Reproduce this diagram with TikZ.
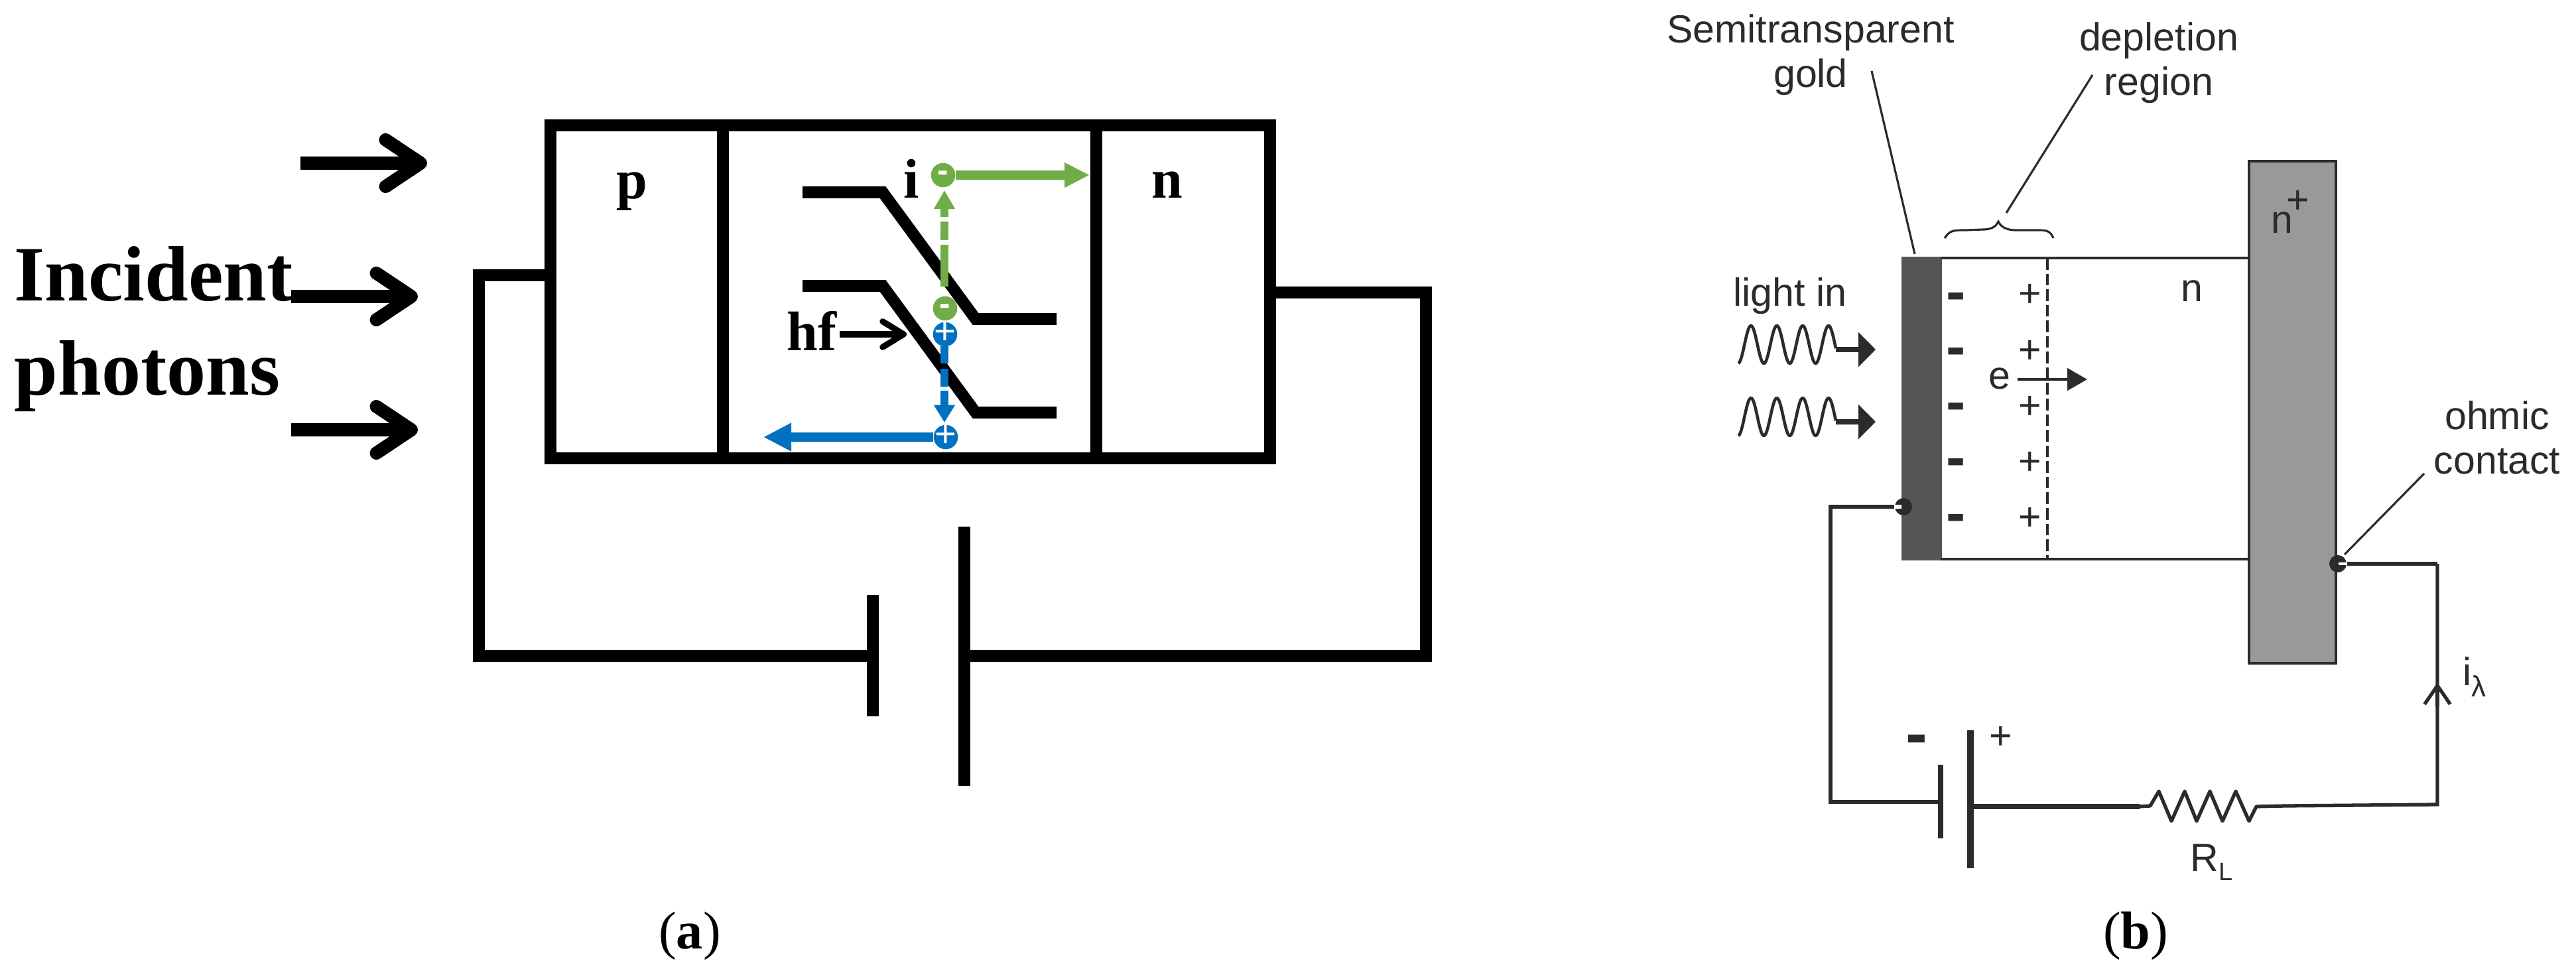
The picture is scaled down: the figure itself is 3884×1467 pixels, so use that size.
\documentclass[tikz,border=0pt]{standalone}
\usepackage{fontspec}
\setmainfont{Liberation Serif}
\newfontfamily\sansb{Liberation Sans}
\usetikzlibrary{arrows.meta}
\definecolor{ink}{HTML}{2B2B2B}
\definecolor{gr}{HTML}{70AD47}
\definecolor{bl}{HTML}{0070C0}
\tikzset{
	heavy/.style={line width=5.2pt, black},
	band/.style={line width=5pt, black},
	photon/.style={line width=5.6pt, black, -{Straight Barb[round,length=15pt,width=20pt]}},
	lbla/.style={inner sep=0pt, anchor=base west, font=\bfseries\fontsize{23.9pt}{27pt}\selectfont},
	lblb/.style={inner sep=0pt, text=ink, font=\sansb\fontsize{16.8pt}{19pt}\selectfont, align=center},
	capt/.style={inner sep=0pt, anchor=base, font=\fontsize{22.8pt}{26pt}\selectfont},
	charge/.style={circle, fill=#1, text=white, inner sep=0pt, minimum size=10.4pt},
	chargeneg/.style={font=\sansb\bfseries\fontsize{14pt}{14pt}\selectfont, text height=5.4pt, text depth=-1.9pt},
	chargepos/.style={font=\sansb\fontsize{16pt}{16pt}\selectfont, text height=8pt, text depth=-3.2pt},
	minusb/.style={inner sep=0pt, text=ink, font=\sansb\bfseries\fontsize{25pt}{25pt}\selectfont, text height=15pt, text depth=2pt},
	plusb/.style={inner sep=0pt, text=ink, font=\sansb\fontsize{16.8pt}{19pt}\selectfont, text height=11.8pt, text depth=0pt},
	wireb/.style={line width=1.5pt, ink},
	leader/.style={line width=.9pt, ink},
	contact/.style={circle, fill=ink, inner sep=0pt, minimum size=7.4pt},
}
\begin{document}
\begin{tikzpicture}[x=0.01cm, y=-0.01cm]
	\useasboundingbox (0,0) rectangle (3884,1467);

	% (a)
	\coordinate (nw) at (830,189);
	\coordinate (ne) at (1915,189);
	\coordinate (se) at (1915,691);
	\coordinate (sw) at (830,691);
	\draw[heavy] (nw) -- (ne) -- (se) -- (sw) -- cycle;
	\foreach \x in {1090,1653}
	{
		\draw[heavy] (\x,189) -- (\x,691);
	};

	\coordinate (wl1) at (830,415);
	\coordinate (wl2) at (722,415);
	\coordinate (wl3) at (722,989);
	\coordinate (wl4) at (1316,989);
	\coordinate (wr1) at (1915,441);
	\coordinate (wr2) at (2150,441);
	\coordinate (wr3) at (2150,989);
	\coordinate (wr4) at (1454,989);
	\coordinate (s1) at (1316,897);
	\coordinate (s2) at (1316,1080);
	\coordinate (l1) at (1454,794);
	\coordinate (l2) at (1454,1185);
	\draw[heavy] (wl1) -- (wl2) -- (wl3) -- (wl4);
	\draw[heavy] (wr1) -- (wr2) -- (wr3) -- (wr4);
	\draw[heavy] (s1) -- (s2);
	\draw[heavy] (l1) -- (l2);

	\foreach \i / \x / \y in {1/453/246, 2/439/447, 3/439/648}
	{
		\coordinate (ph\i) at (\x,\y);
		\coordinate (pt\i) at (\x+191,\y);
		\draw[photon] (ph\i) -- (pt\i);
	};
	\node (inc) [inner sep=0pt, anchor=west, align=left, font=\bfseries\fontsize{33.6pt}{40.4pt}\selectfont] at (21,496) {Incident\\photons};

	\node (lp) [lbla] at (929,300) {p};
	\node (li) [lbla] at (1362,299) {i};
	\node (ln) [lbla] at (1736,299) {n};
	\node (hf) [lbla] at (1186,528) {hf};

	\foreach \y / \e in {290/481, 431/622}
	{
		\draw[band] (1210,\y) -- (1331,\y) -- (1471,\e) -- (1593,\e);
	};

	\coordinate (hf1) at (1266,504);
	\coordinate (hf2) at (1367,504);
	\draw[line width=2.6pt, -{Straight Barb[round,length=9pt,width=11pt]}] (hf1) -- (hf2);

	\node (g1) [charge=gr, chargeneg] at (1422,264) {\makebox[0pt]{-}};
	\node (g2) [charge=gr, chargeneg] at (1425,465) {\makebox[0pt]{-}};
	\node (b1) [charge=bl, chargepos] at (1425,504) {\makebox[0pt]{+}};
	\node (b2) [charge=bl, chargepos] at (1426,659) {\makebox[0pt]{+}};

	\coordinate (gt) at (1643,264);
	\coordinate (gd1) at (1424,432);
	\coordinate (gd2) at (1424,287);
	\coordinate (bt) at (1151,659);
	\coordinate (bd1) at (1424,522);
	\coordinate (bd2) at (1424,637);
	\draw[gr, line width=4pt, -{Triangle[length=10.8pt,width=10pt]}] (g1) -- (gt);
	\draw[bl, line width=4pt, -{Triangle[length=12pt,width=11.4pt]}] (b2) -- (bt);
	\draw[gr, line width=3.4pt, dash pattern=on 17.9pt off 2pt on 8pt off 2pt on 14pt, -{Triangle[length=8pt,width=8.6pt]}] (gd1) -- (gd2);
	\draw[bl, line width=3.4pt, dash pattern=on 7.4pt off 2.3pt on 7.7pt off 1.7pt on 14pt, -{Triangle[length=7.5pt,width=8.6pt]}] (bd1) -- (bd2);

	\node (capa) [capt] at (1040,1430) {(\textbf{a})};

	% (b)
	\node (gold) [draw=ink!80, line width=1pt, fill=ink!80!white, minimum width=57*0.01cm, minimum height=454*0.01cm, inner sep=0pt] at (2897.5,616) {};
	\coordinate (top1) at (2926,389);
	\coordinate (top2) at (3391,389);
	\coordinate (bot1) at (2926,843);
	\coordinate (bot2) at (3391,843);
	\draw[line width=1.1pt, ink] (top1) -- (top2);
	\draw[line width=1.1pt, ink] (bot1) -- (bot2);
	\node (nplus) [draw=ink, line width=1.1pt, fill=black!40, minimum width=131*0.01cm, minimum height=757*0.01cm, inner sep=0pt] at (3456.5,621.5) {};

	\coordinate (dep1) at (3087,389);
	\coordinate (dep2) at (3087,843);
	\draw[line width=1pt, ink, dash pattern=on 5pt off 1.7pt] (dep1) -- (dep2);

	\draw[line width=.9pt, ink] (2932,359) .. controls (2940,347) and (2945,347) .. (2965,347) -- (2990,346) .. controls (3005,346) and (3010,340) .. (3013,334) .. controls (3016,340) and (3022,347) .. (3040,347) -- (3075,347) .. controls (3088,347) and (3092,350) .. (3096,359);

	\foreach \i / \y in {1/447, 2/530, 3/613, 4/697, 5/781}
	{
		\node (m\i) [minusb] at (2949,\y) {-};
	};
	\foreach \i / \y in {1/442, 2/527, 3/611, 4/695, 5/779}
	{
		\node (p\i) [plusb] at (3061,\y) {+};
	};

	\node (semi) [lblb] at (2730,83) {Semitransparent\\gold};
	\node (depl) [lblb] at (3255,94.5) {depletion\\region};
	\node (ohm) [lblb] at (3765,660) {ohmic\\contact};
	\node (light) [lblb, anchor=base west] at (2613,462) {light in};
	\node (nn) [lblb, anchor=base west] at (3288,455) {n};
	\node (npl) [lblb, anchor=base west] at (3424,352) {n\kern-2.8pt\raisebox{8.8pt}{+}};
	\node (ee) [lblb, anchor=base west] at (2998,587) {e};

	\coordinate (la1) at (2822,107);
	\coordinate (la2) at (2887,383);
	\coordinate (lb1) at (3155,113);
	\coordinate (lb2) at (3025,321);
	\coordinate (lc1) at (3655,714);
	\coordinate (lc2) at (3535,836);
	\draw[leader] (la1) -- (la2);
	\draw[leader] (lb1) -- (lb2);
	\draw[leader] (lc1) -- (lc2);

	\coordinate (e1) at (3042,572);
	\coordinate (e2) at (3147,572);
	\draw[line width=1.3pt, ink, -{Triangle[length=8.5pt,width=9.4pt]}] (e1) -- (e2);

	\foreach \k / \y in {1/527, 2/636}
	{
		\draw[line width=1.3pt, ink, line join=round] plot[domain=0:147, samples=90, smooth] ({2621+\x},{\y-7.5-28.5*cos((\x-19)/39*360)});
		\coordinate (w\k) at (2768,\y);
		\coordinate (t\k) at (2828,\y);
		\draw[line width=2pt, ink, -{Triangle[length=7.4pt,width=14.5pt]}] (w\k) -- (t\k);
	};

	% circuit
	\node (dotl) [contact] at (2870,764) {};
	\node (dotr) [contact] at (3525,850) {};
	\coordinate (cl1) at (2760,764);
	\coordinate (cl2) at (2760,1209);
	\coordinate (cl3) at (2926,1209);
	\draw[wireb] (dotl) -- (cl1) -- (cl2) -- (cl3);
	\draw[white, line width=1.5pt] (dotl.west) -- ++(11,0);
	\draw[white, line width=1pt] (dotr.east) -- ++(-13,0);
	\coordinate (cs1) at (2926,1153);
	\coordinate (cs2) at (2926,1264);
	\coordinate (cb1) at (2971,1101);
	\coordinate (cb2) at (2971,1309);
	\draw[line width=2.5pt, ink] (cs1) -- (cs2);
	\draw[line width=2.9pt, ink] (cb1) -- (cb2);
	\node (bm) [minusb, font=\sansb\bfseries\fontsize{28pt}{28pt}\selectfont, text height=16.8pt, text depth=2.2pt] at (2890,1114) {-};
	\node (bp) [plusb] at (3017,1109) {+};

	\coordinate (r0) at (2971,1216);
	\coordinate (r1) at (3226,1216);
	\coordinate (r2) at (3402,1216);
	\coordinate (r3) at (3446,1215);
	\coordinate (cr1) at (3675,1213);
	\coordinate (cr2) at (3675,850);
	\draw[line width=2.2pt, ink] (r0) -- (r1);
	\draw[line width=1.5pt, ink, line join=round] (r1) -- (3242,1215) -- (3255,1193) -- (3274,1238) -- (3294,1193) -- (3312,1238) -- (3332,1193) -- (3351,1238) -- (3371,1193) -- (3391,1238) -- (r2) -- (r3);
	\draw[wireb] (r3) -- (cr1) -- (cr2);
	\draw[line width=1.5pt, ink] (dotr) -- (cr2);
	\coordinate (ia1) at (3675,1065);
	\coordinate (ia2) at (3675,1029);
	\draw[line width=1.5pt, ink, -{Straight Barb[length=8pt,width=11pt]}] (ia1) -- (ia2);

	\node (rl) [lblb, anchor=base west] at (3302,1313) {R\raisebox{-4pt}{\fontsize{10.8pt}{12pt}\selectfont L}};
	\node (il) [lblb, anchor=base west] at (3713,1033) {i\raisebox{-5.1pt}{\fontsize{12.5pt}{14pt}\selectfont λ}};

	\node (capb) [capt] at (3220,1430) {(\textbf{b})};
\end{tikzpicture}
\end{document}
